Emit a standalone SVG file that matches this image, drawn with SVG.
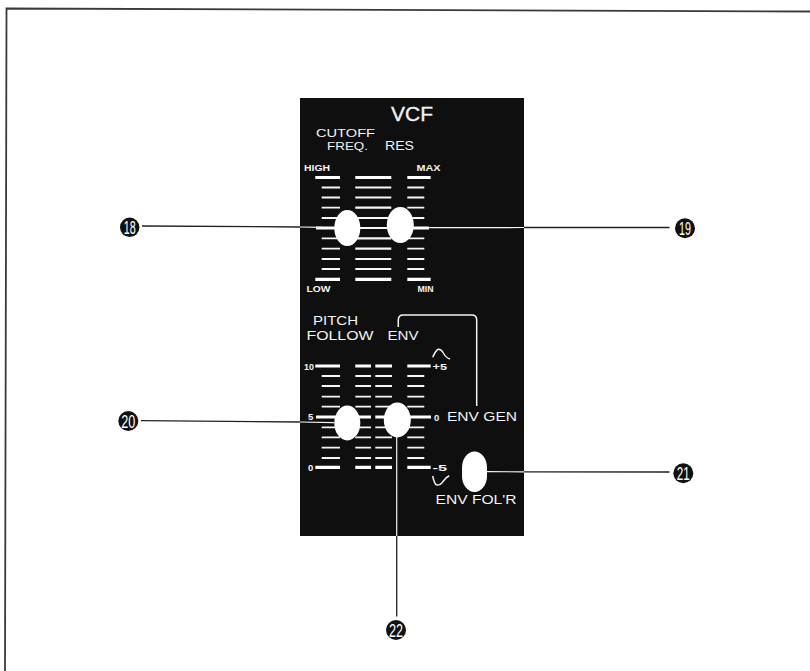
<svg xmlns="http://www.w3.org/2000/svg" width="810" height="671" viewBox="0 0 810 671">
<style>
.maj{stroke:#fff;stroke-width:3.200}
.min{stroke:#f6f6f6;stroke-width:1.800}
.mid{stroke:#f8f8f8;stroke-width:2.200}
.lbl{font-family:"Liberation Sans",Arial,sans-serif;fill:#f4f4f4}
.sm{font-size:9.500px;font-weight:bold}
.big{font-size:13.500px}
.cut{font-size:11.500px}
.knob{fill:#fff}
.out{stroke:#222;stroke-width:1.300;fill:none}
.in{stroke:#f4f4f4;stroke-width:1.200;fill:none}
.bub{fill:#111}
.num{font-family:"Liberation Sans Narrow","Liberation Sans",Arial,sans-serif;font-size:18px;fill:#fff;text-anchor:middle}
</style>
<rect width="810" height="671" fill="#fff"/>
<path id="frame" d="M5 671L6.500 8.500L810 11.500" fill="none" stroke="#3a3a3a" stroke-width="1.800"/>
<g id="panel">
<rect x="300" y="98" width="224" height="438" fill="#0f0f0f"/>
<text class="lbl" x="391" y="121" font-size="20" textLength="42" lengthAdjust="spacingAndGlyphs" stroke="#f4f4f4" stroke-width="0.300">VCF</text>
<text class="lbl cut" x="316" y="137" textLength="59" lengthAdjust="spacingAndGlyphs">CUTOFF</text>
<text class="lbl cut" x="327" y="150" textLength="41" lengthAdjust="spacingAndGlyphs">FREQ.</text>
<text class="lbl big" x="385" y="150" textLength="29" lengthAdjust="spacingAndGlyphs">RES</text>
<text class="lbl sm" x="304" y="171" textLength="26" lengthAdjust="spacingAndGlyphs">HIGH</text>
<text class="lbl sm" x="416.500" y="171" textLength="24" lengthAdjust="spacingAndGlyphs">MAX</text>
<text class="lbl sm" x="306.500" y="292" textLength="24" lengthAdjust="spacingAndGlyphs">LOW</text>
<text class="lbl sm" x="417.500" y="292" textLength="16" lengthAdjust="spacingAndGlyphs">MIN</text>
<path class="maj" d="M315.300 177.500H340M355.300 177.500H391.300M407.300 177.500H430.700M315.300 279.300H340M355.300 279.300H391.300M407.300 279.300H430.700M316 228H340M407.300 228H429"/>
<path class="mid" d="M355.300 187.500H391.300M355.300 197.500H391.300M355.300 207.700H391.300M355.300 218H391.300M355.300 228H391.300M355.300 238.300H391.300M355.300 248.700H391.300M355.300 259H391.300M355.300 269H391.300"/>
<path class="min" d="M321.700 187.500H340M321.700 197.500H340M321.700 207.700H340M321.700 218H340M321.700 238.300H340M321.700 248.700H340M321.700 259H340M321.700 269H340M407.300 187.500H424.300M407.300 197.500H424.300M407.300 207.700H424.300M407.300 218H424.300M407.300 238.300H424.300M407.300 248.700H424.300M407.300 259H424.300M407.300 269H424.300"/>
<text class="lbl big" x="313" y="325" textLength="45" lengthAdjust="spacingAndGlyphs">PITCH</text>
<text class="lbl big" x="306.500" y="340" textLength="67" lengthAdjust="spacingAndGlyphs">FOLLOW</text>
<text class="lbl big" x="387.500" y="340" textLength="31" lengthAdjust="spacingAndGlyphs">ENV</text>
<text class="lbl sm" x="304" y="369.500" textLength="10" lengthAdjust="spacingAndGlyphs">10</text>
<text class="lbl sm" x="432.500" y="369.500" textLength="14.500" lengthAdjust="spacingAndGlyphs">+5</text>
<text class="lbl sm" x="308" y="420">5</text>
<text class="lbl sm" x="434" y="420.500">0</text>
<text class="lbl sm" x="308" y="471">0</text>
<text class="lbl sm" x="432.500" y="471" textLength="14.500" lengthAdjust="spacingAndGlyphs">-5</text>
<text class="lbl big" x="447" y="420.500" textLength="70" lengthAdjust="spacingAndGlyphs">ENV GEN</text>
<text class="lbl big" x="435.500" y="504" textLength="81" lengthAdjust="spacingAndGlyphs">ENV FOL'R</text>
<path d="M398.300 327V320Q398.300 315 403.300 315H471.700Q476.700 315 476.700 320V406" fill="none" stroke="#f4f4f4" stroke-width="1.500"/>
<path d="M432.700 357.300Q436 350 438.300 349.300Q441 349 443 352.500Q446 358 450 359" fill="none" stroke="#f4f4f4" stroke-width="1.500"/>
<path d="M432.700 476Q434.500 485 437 485Q441 485 443 481.500Q446 477 449.300 475.700" fill="none" stroke="#f4f4f4" stroke-width="1.500"/>
<path class="maj" d="M315.300 366H340M355.300 366H371M375.300 366H392M407.300 366H430.700M315.300 467.300H340M355.300 467.300H371M375.300 467.300H392M407.300 467.300H430.700M316 417H340M355.300 417H371M375.300 417H392M407.300 417H431"/>
<path class="min" d="M321.700 376H340M355.300 376H371M375.300 376H392M407.300 376H424.300M321.700 386H340M355.300 386H371M375.300 386H392M407.300 386H424.300M321.700 396.700H340M355.300 396.700H371M375.300 396.700H392M407.300 396.700H424.300M321.700 406.700H340M355.300 406.700H371M375.300 406.700H392M407.300 406.700H424.300M321.700 427.300H340M355.300 427.300H371M375.300 427.300H392M407.300 427.300H424.300M321.700 437.300H340M355.300 437.300H371M375.300 437.300H392M407.300 437.300H424.300M321.700 447.700H340M355.300 447.700H371M375.300 447.700H392M407.300 447.700H424.300M321.700 458H340M355.300 458H371M375.300 458H392M407.300 458H424.300"/>
</g>
<g id="connectors">
<path class="out" d="M142 226L300 227M524 227.500L669.500 227.500M141 420.700L300 422M524 471.800L669.500 472M396.700 536V616.500"/>
<path class="in" d="M300 227L322 227.300M429 227.700L524 227.500M300 422L334 422.700M487 471.700L524 471.800M396.700 437V536"/>
</g>
<g id="slider18"><ellipse class="knob" cx="347.300" cy="228" rx="13" ry="18"/></g>
<g id="slider19"><ellipse class="knob" cx="400.300" cy="225" rx="13.500" ry="18"/></g>
<g id="slider20"><ellipse class="knob" cx="347.300" cy="423" rx="13" ry="17.500"/></g>
<g id="slider22"><ellipse class="knob" cx="397.300" cy="420" rx="13.500" ry="17.500"/></g>
<g id="switch21"><rect class="knob" x="462" y="451.500" width="25" height="40.500" rx="12.500" ry="16"/></g>
<g id="n18"><circle class="bub" cx="129.700" cy="227.300" r="9.700"/><text class="num" x="129.700" y="233.800" textLength="12" lengthAdjust="spacingAndGlyphs">18</text></g>
<g id="n19"><circle class="bub" cx="685" cy="228.300" r="10"/><text class="num" x="685" y="234.800" textLength="12" lengthAdjust="spacingAndGlyphs">19</text></g>
<g id="n20"><circle class="bub" cx="128.300" cy="421" r="10"/><text class="num" x="128.300" y="427.500" textLength="14" lengthAdjust="spacingAndGlyphs">20</text></g>
<g id="n21"><circle class="bub" cx="683.300" cy="473.300" r="10"/><text class="num" x="683.300" y="479.800" textLength="13" lengthAdjust="spacingAndGlyphs">21</text></g>
<g id="n22"><circle class="bub" cx="396" cy="630" r="10"/><text class="num" x="396" y="636.500" textLength="14" lengthAdjust="spacingAndGlyphs">22</text></g>
</svg>
